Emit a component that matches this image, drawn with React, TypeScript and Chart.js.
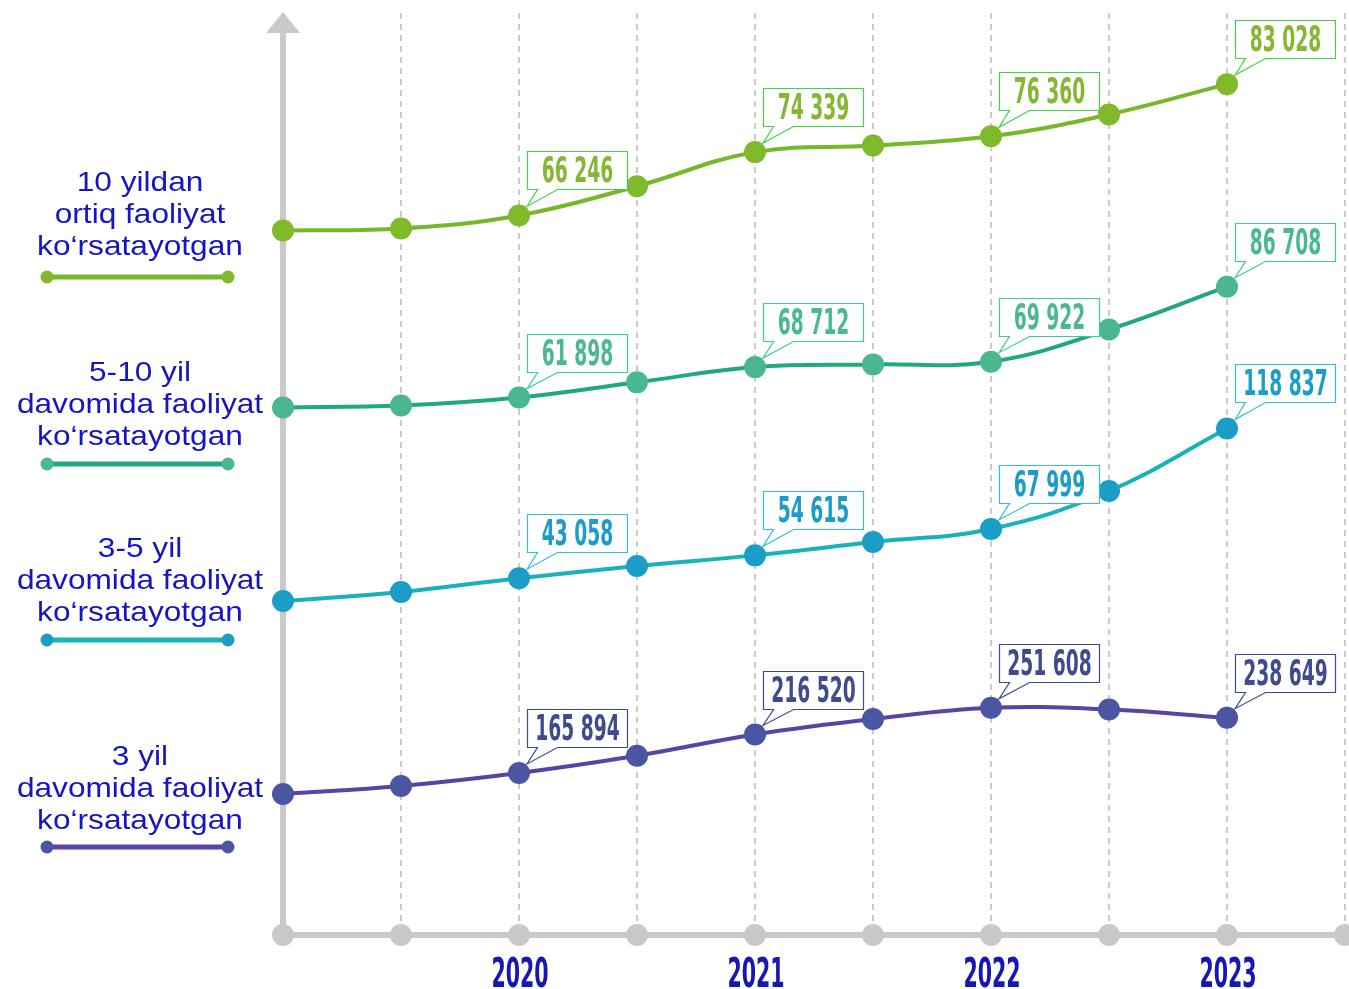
import React, { useEffect, useRef } from 'react';
import { Chart, registerables } from 'chart.js';

Chart.register(...registerables);

// x positions 0..9 (half-year steps), year labels on whole years
const xTickLabels = ['', '', '2020', '', '2021', '', '2022', '', '2023', ''];
const labeledIdx = [2, 4, 6, 8];

const seriesNames = [
  ['10 yildan', 'ortiq faoliyat', 'ko‘rsatayotgan'],
  ['5-10 yil', 'davomida faoliyat', 'ko‘rsatayotgan'],
  ['3-5 yil', 'davomida faoliyat', 'ko‘rsatayotgan'],
  ['3 yil', 'davomida faoliyat', 'ko‘rsatayotgan'],
];

const over10 = [64330, 64580, 66246, 69980, 74339, 75180, 76360, 79150, 83028];
const from5to10 = [59660, 60110, 61898, 65300, 68712, 69320, 69922, 77120, 86708];
const from3to5 = [31500, 36100, 43058, 49200, 54615, 61400, 67999, 87200, 118837];
const upTo3 = [138250, 148780, 165894, 188570, 216520, 236800, 251608, 249330, 238649];

const seriesValues = [over10, from5to10, from3to5, upTo3];

// each series sits in its own band: hidden axis ranges
const axisRanges = [
  [-25736, 93784],
  [-58350, 150846],
  [-137523, 335703],
  [-47408, 1183389],
];

const lineColors = ['#76b82a', '#1fa883', '#18b2b9', '#5a43a6'];
const pointColors = ['#80ba2a', '#4ab790', '#1a9dc6', '#4b56a3'];
const labelTextColors = ['#86b634', '#4ab892', '#1c9cc8', '#3e4c8e'];
const labelBorderColors = ['#45d245', '#3dc9a2', '#2dc3d3', '#3e4c8e'];

const legendFirstLineY = [183, 373, 549, 757];
const legendSampleY = [277, 464, 640, 847];

const fmt = (v: number) => String(v).replace(/\B(?=(\d{3})+(?!\d))/g, ' ');

function drawCondensed(ctx: CanvasRenderingContext2D, text: string, cx: number, baseY: number, fontPx: number, digitW: number, color: string) {
  ctx.save();
  ctx.font = `bold ${fontPx}px "Liberation Sans Narrow", "DejaVu Sans Condensed", "Liberation Sans", sans-serif`;
  const w0 = ctx.measureText('0').width || 1;
  const sx = digitW / w0;
  ctx.translate(cx, baseY);
  ctx.scale(sx, 1);
  ctx.textAlign = 'center';
  ctx.textBaseline = 'alphabetic';
  ctx.fillStyle = color;
  ctx.fillText(text, 0, 0);
  ctx.restore();
}

const decor = {
  id: 'decor',
  beforeDatasetsDraw(chart: any) {
    const { ctx, chartArea, scales } = chart;
    const xs = scales.x;
    const base = chartArea.bottom;
    const x0 = xs.getPixelForValue(0);
    ctx.save();
    // dashed vertical guides
    ctx.strokeStyle = '#cbcbcb';
    ctx.lineWidth = 2;
    ctx.setLineDash([6, 5]);
    for (let i = 1; i < xTickLabels.length; i++) {
      const px = Math.round(xs.getPixelForValue(i));
      ctx.beginPath();
      ctx.moveTo(px, chartArea.top + 13);
      ctx.lineTo(px, base);
      ctx.stroke();
    }
    ctx.setLineDash([]);
    ctx.fillStyle = '#c9c9c9';
    // vertical axis with arrow
    ctx.fillRect(x0 - 3, chartArea.top + 30, 6, base - chartArea.top - 30);
    ctx.beginPath();
    ctx.moveTo(x0, chartArea.top + 12);
    ctx.lineTo(x0 + 17, chartArea.top + 33);
    ctx.lineTo(x0 - 17, chartArea.top + 33);
    ctx.closePath();
    ctx.fill();
    // horizontal axis
    ctx.fillRect(x0, base - 3, chart.width - x0, 6);
    for (let i = 0; i < xTickLabels.length; i++) {
      const px = xs.getPixelForValue(i);
      ctx.beginPath();
      ctx.arc(px, base, 11, 0, Math.PI * 2);
      ctx.fill();
    }
    // year labels
    xTickLabels.forEach((t, i) => {
      if (!t) return;
      drawCondensed(ctx, t, xs.getPixelForValue(i) + 1, base + 52, 40, 14.3, '#1717b3');
    });
    ctx.restore();
  },
  afterDatasetsDraw(chart: any) {
    const { ctx } = chart;
    ctx.save();
    // callout labels
    seriesValues.forEach((vals, di) => {
      const meta = chart.getDatasetMeta(di);
      labeledIdx.forEach((i) => {
        const pt = meta.data[i];
        const x = pt.x, y = pt.y;
        const w = 100, h = 38;
        const left = Math.round(x + 8) + 0.5;
        const bottom = Math.round(y - 26) + 0.5;
        const top = bottom - h;
        ctx.beginPath();
        ctx.moveTo(left, top);
        ctx.lineTo(left + w, top);
        ctx.lineTo(left + w, bottom);
        ctx.lineTo(left + 30, bottom);
        ctx.lineTo(x + 8, y - 9);
        ctx.lineTo(left + 10, bottom);
        ctx.lineTo(left, bottom);
        ctx.closePath();
        ctx.fillStyle = '#ffffff';
        ctx.fill();
        ctx.strokeStyle = labelBorderColors[di];
        ctx.lineWidth = 1.2;
        ctx.stroke();
        drawCondensed(ctx, fmt(vals[i]), left + w / 2, bottom - 8, 36, 13, labelTextColors[di]);
      });
    });
    // legend on the left
    seriesNames.forEach((lines, di) => {
      lines.forEach((line, li) => {
        ctx.save();
        ctx.font = '28px "Liberation Sans", Arial, sans-serif';
        ctx.translate(140, legendFirstLineY[di] + li * 32);
        ctx.scale(1.13, 1);
        ctx.textAlign = 'center';
        ctx.textBaseline = 'middle';
        ctx.fillStyle = '#1515c2';
        ctx.fillText(line, 0, 0);
        ctx.restore();
      });
      const sy = legendSampleY[di];
      ctx.strokeStyle = lineColors[di];
      ctx.lineWidth = 5;
      ctx.beginPath();
      ctx.moveTo(47, sy);
      ctx.lineTo(228, sy);
      ctx.stroke();
      ctx.fillStyle = pointColors[di];
      [47, 228].forEach((cx) => {
        ctx.beginPath();
        ctx.arc(cx, sy, 6.5, 0, Math.PI * 2);
        ctx.fill();
      });
    });
    ctx.restore();
  },
};

export default function App() {
  const ref = useRef<HTMLCanvasElement | null>(null);
  useEffect(() => {
    if (!ref.current) return;
    const scales: any = {
      x: { type: 'linear', min: 0, max: xTickLabels.length - 1, display: false },
    };
    axisRanges.forEach((r, k) => {
      scales['y' + k] = { type: 'linear', min: r[0], max: r[1], display: false };
    });
    const chart = new Chart(ref.current, {
      type: 'line',
      data: {
        datasets: seriesValues.map((vals, k) => ({
          label: seriesNames[k].join(' '),
          data: vals.map((v, i) => ({ x: i, y: v })),
          yAxisID: 'y' + k,
          borderColor: lineColors[k],
          backgroundColor: pointColors[k],
          pointBackgroundColor: pointColors[k],
          pointBorderColor: pointColors[k],
          pointBorderWidth: 0,
          pointRadius: 11,
          borderWidth: 4,
          tension: 0.4,
          fill: false,
          clip: false,
        })),
      },
      options: {
        responsive: false,
        animation: false,
        layout: { autoPadding: false, padding: { left: 283, right: 4, top: 0, bottom: 54 } },
        plugins: { legend: { display: false }, tooltip: { enabled: false } },
        scales,
      } as any,
      plugins: [decor],
    });
    return () => chart.destroy();
  }, []);
  return (
    <div style={{ position: 'absolute', left: 0, top: 0, width: 1349, height: 989, background: '#fff' }}>
      <canvas ref={ref} width={1349} height={989} style={{ display: 'block' }} />
    </div>
  );
}
